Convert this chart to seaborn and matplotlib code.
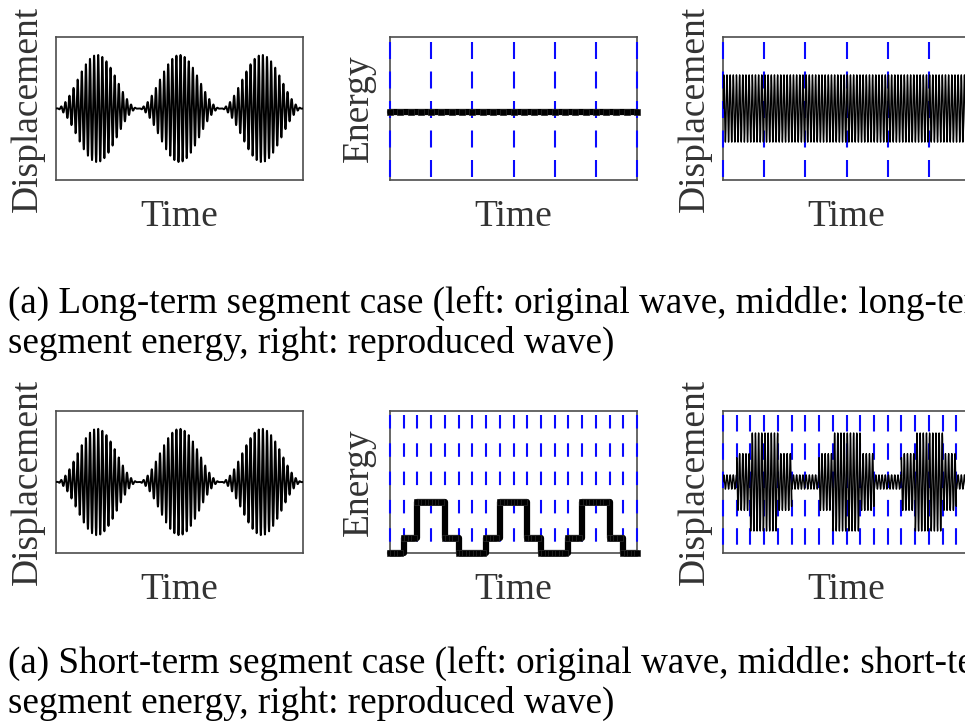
import numpy as np
import pandas as pd
import matplotlib
matplotlib.use("Agg")
import matplotlib.pyplot as plt
import seaborn as sns

sns.set_theme(style="white")
plt.rcParams["font.family"] = ["Liberation Serif", "DejaVu Serif"]
plt.rcParams["lines.scale_dashes"] = False

# ---- signal description -------------------------------------------------
# original wave: three wave packets spread over the record
burst_centers = [1 / 6, 1 / 2, 5 / 6]
burst_width = 1 / 3
burst_peak = 0.75
wave_cycles = 60

# long-term case: 6 segments
long_energy = [0.475, 0.475, 0.475, 0.475, 0.475, 0.475]
long_amplitude = [0.47, 0.47, 0.47, 0.47, 0.47, 0.47]

# short-term case: 18 segments
short_energy = [0.0, 0.108, 0.36, 0.36, 0.108, 0.0,
                0.0, 0.108, 0.36, 0.36, 0.108, 0.0,
                0.0, 0.108, 0.36, 0.36, 0.108, 0.0]
short_amplitude = [0.10, 0.40, 0.69, 0.69, 0.40, 0.10,
                   0.10, 0.40, 0.69, 0.69, 0.40, 0.10,
                   0.10, 0.40, 0.69, 0.69, 0.40, 0.10]
reproduced_cycles = 78

captions = [
    ["(a) Long-term segment case (left: original wave, middle: long-term",
     "segment energy, right: reproduced wave)"],
    ["(a) Short-term segment case (left: original wave, middle: short-term",
     "segment energy, right: reproduced wave)"],
]

# ---- helpers --------------------------------------------------------------
N = 20000
t = np.linspace(0.0, 1.0, N)


def original_wave():
    env = np.zeros_like(t)
    for c in burst_centers:
        d = (t - c) / burst_width
        mask = np.abs(d) <= 0.5
        env[mask] += burst_peak * np.cos(np.pi * d[mask]) ** 2
    return env * np.sin(2 * np.pi * wave_cycles * t)


def reproduced_wave(amps):
    n = len(amps)
    seg = np.minimum((t * n).astype(int), n - 1)
    a = np.asarray(amps)[seg]
    return a * np.sin(2 * np.pi * reproduced_cycles * t)


def energy_steps(levels, per_seg=4):
    n = len(levels)
    ts = np.arange(n * per_seg) / (n * per_seg)
    seg = np.minimum((ts * n).astype(int), n - 1)
    ys = np.asarray(levels)[seg]
    ts = np.append(ts, 1.0)
    ys = np.append(ys, levels[-1])
    return ts, ys


FIG_W, FIG_H = 965, 728
fig = plt.figure(figsize=(FIG_W / 100, FIG_H / 100), dpi=100)


def px_axes(left, top, w, h):
    return fig.add_axes([left / FIG_W, 1 - (top + h) / FIG_H, w / FIG_W, h / FIG_H])


def style_axes(ax, ylabel):
    ax.set_xlim(0, 1)
    ax.set_ylim(-1, 1)
    ax.set_xticks([])
    ax.set_yticks([])
    for s in ax.spines.values():
        s.set_color("#4d4d4d")
        s.set_linewidth(1.2)
        s.set_visible(True)
    ax.set_xlabel("Time", fontsize=27, color="#333333", labelpad=14)
    ax.set_ylabel(ylabel, fontsize=27, color="#333333", labelpad=8)


def segment_lines(ax, nseg, on_px, off_px, gap_px):
    pt = 72 / 100
    period = (on_px + off_px) * pt
    offset = period - gap_px * pt
    for b in np.linspace(0, 1, nseg + 1):
        ax.plot([b, b], [1, 0], transform=ax.get_xaxis_transform(),
                color="#0a0aff", lw=1.5, clip_on=False, zorder=2.6,
                linestyle=(offset, (on_px * pt, off_px * pt)))


rows = [
    dict(top=37, h=143, energy=long_energy, amp=long_amplitude,
         dash=(17, 12.5, 5), cap_y=(313, 353)),
    dict(top=411, h=142, energy=short_energy, amp=short_amplitude,
         dash=(13.5, 14.8, 4), cap_y=(673, 713)),
]
cols = [56, 390, 723]
W = 247

orig = original_wave()

for r, row in enumerate(rows):
    # left: original wave
    ax = px_axes(cols[0], row["top"], W, row["h"])
    sns.lineplot(x=t, y=orig, ax=ax, color="black", lw=1.4,
                 estimator=None, sort=False, zorder=3)
    style_axes(ax, "Displacement")

    # middle: segment energy
    ax = px_axes(cols[1], row["top"], W, row["h"])
    ts, ys = energy_steps(row["energy"])
    segment_lines(ax, len(row["energy"]), *row["dash"])
    sns.lineplot(x=ts, y=ys, ax=ax, color="black", lw=4.5,
                 drawstyle="steps-post", marker="s", markersize=4.0,
                 markeredgecolor="#2b2b2b", markeredgewidth=0.5,
                 estimator=None, sort=False, zorder=4, clip_on=False)
    style_axes(ax, "Energy")
    ax.set_ylim(0, 1)
    ax.yaxis.labelpad = 10

    # right: reproduced wave
    ax = px_axes(cols[2], row["top"], W, row["h"])
    segment_lines(ax, len(row["amp"]), row["dash"][0] + (3 if r else 0),
                  row["dash"][1] - (3 if r else 0), row["dash"][2])
    sns.lineplot(x=t, y=reproduced_wave(row["amp"]), ax=ax, color="black",
                 lw=1.0, estimator=None, sort=False, zorder=3)
    style_axes(ax, "Displacement")

    for k, line in enumerate(captions[r]):
        fig.text(8 / FIG_W, 1 - row["cap_y"][k] / FIG_H, line, fontsize=26.7,
                 color="black", ha="left", va="baseline")

fig.savefig("out.png", dpi=100)
